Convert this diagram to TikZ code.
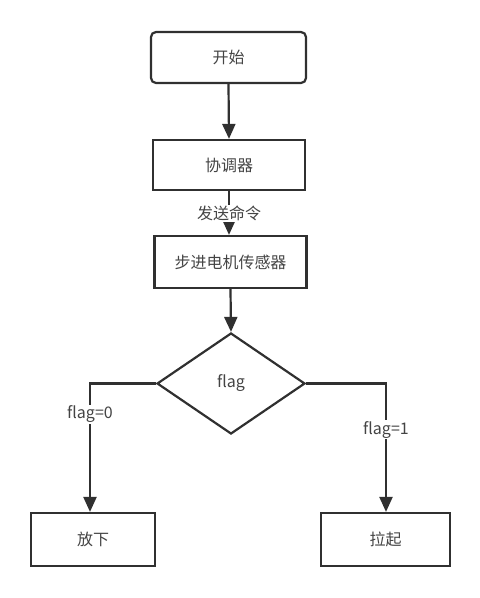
\documentclass[tikz,border=0pt]{standalone}
\usepackage{fontspec}
\setmainfont{Noto Sans CJK SC}
\usetikzlibrary{shapes.geometric,arrows.meta}
\definecolor{ink}{HTML}{303030}
\definecolor{txt}{HTML}{444444}
\tikzset{
  box/.style={draw=ink, line width=2.2pt, minimum width=152pt, minimum height=51pt, inner sep=0pt, text=txt, font=\fontsize{16}{18}\selectfont},
  smallbox/.style={box, minimum width=124pt, minimum height=53pt},
  decision/.style={draw=ink, line width=2.2pt, diamond, aspect=1.465, minimum width=148pt, minimum height=101pt, inner sep=0pt, text=txt, font=\fontsize{16}{18}\selectfont},
  conn/.style={draw=ink, line width=2.2pt, -{Triangle[length=15pt,width=13pt]}},
  lab/.style={fill=white, inner sep=1pt, text=txt, font=\fontsize{16}{18}\selectfont}
}
\begin{document}
\begin{tikzpicture}[x=1pt,y=-1pt]
\useasboundingbox (0,0) rectangle (480,598);
\node[box, rounded corners=5pt, minimum width=155pt] (start) at (228.5,57.5) {开始};
\node[box, minimum height=50pt] (coord) at (229,165) {协调器};
\node[box, minimum height=52pt] (motor) at (230.5,262) {步进电机传感器};
\node[decision] (flag) at (231,383.5) {flag};
\node[smallbox] (down) at (93,539.5) {放下};
\node[smallbox, minimum width=129pt] (up) at (385.5,539.5) {拉起};
\coordinate (lc) at (90,383.5);
\coordinate (rc) at (386,383.5);
\draw[conn] (start.south) -- (coord.north);
\draw[conn] (coord.south) -- node[lab, pos=0.5] {发送命令} (motor.north -| coord.south);
\draw[conn] (motor.south) -- (flag.north);
\draw[conn] (flag.west) -- (lc) -- node[lab, pos=0.24] {flag=0} (lc |- down.north);
\draw[conn] (flag.east) -- (rc) -- node[lab, pos=0.36] {flag=1} (rc |- up.north);
\end{tikzpicture}
\end{document}
